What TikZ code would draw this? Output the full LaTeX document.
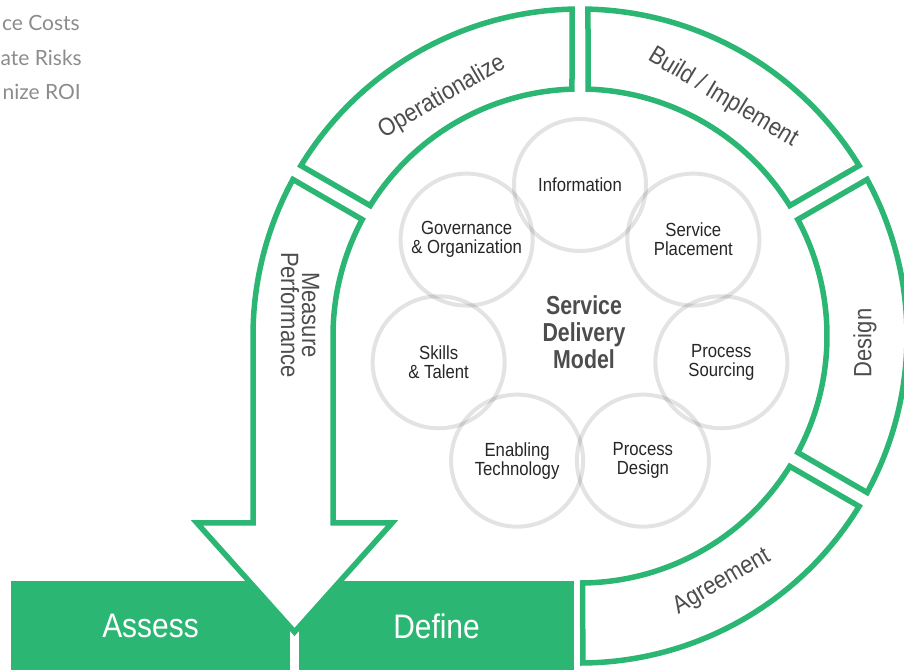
\documentclass[tikz,border=0pt]{standalone}
\usepackage{fontspec}
\setmainfont{Liberation Sans}[FakeStretch=0.88, BoldFeatures={FakeStretch=0.82}]
\newfontfamily\listfont{Lato}

\definecolor{sdmgreen}{RGB}{43,182,115}
\definecolor{labelgray}{RGB}{77,77,77}
\definecolor{listgray}{RGB}{140,140,140}

\tikzstyle{band}=[draw=sdmgreen, line width=5.5pt, fill=white, line join=miter]
\tikzstyle{phase}=[fill=sdmgreen, text=white, minimum height=90pt, inner sep=0pt, font=\fontsize{34}{34}\selectfont]
\tikzstyle{bubble}=[circle, draw=black, draw opacity=0.11, line width=4pt, minimum size=132pt, inner sep=0pt, align=center, text=black!85, font=\fontsize{19}{19}\selectfont]
\tikzstyle{ringlabel}=[text=labelgray, inner sep=0pt, font=\fontsize{25}{21}\selectfont]

\begin{document}
\begin{tikzpicture}[x=1pt,y=1pt]
\useasboundingbox (0,0) rectangle (904,669);
\clip (0,0) rectangle (904,669);
\coordinate (ring) at (580,333);
\coordinate (hub) at (580,339);

% LIST
\node[anchor=base east, inner sep=0pt, text=listgray, font=\listfont\fontsize{21}{21}\selectfont] (costs) at (80,638) {ce Costs};
\node[anchor=base east, inner sep=0pt, text=listgray, font=\listfont\fontsize{21}{21}\selectfont] (risks) at (82,603) {ate Risks};
\node[anchor=base east, inner sep=0pt, text=listgray, font=\listfont\fontsize{21}{21}\selectfont] (roi) at (81,569) {nize ROI};

% ASSESS / DEFINE
\node[phase, minimum width=279pt] (assess) at (150.5,43) {Assess};
\node[phase, minimum width=275pt] (define) at (436.5,43) {Define};

% MEASURE PERFORMANCE
\draw[band] ([shift={(151.4:327pt)}]ring) arc[start angle=151.4, end angle=180, radius=327pt]
	-- (253,146) -- (197,146) -- (294.5,37) -- (392,146) -- (333,146)
	-- ([shift={(180:247pt)}]ring) arc[start angle=180, end angle=151.86, radius=247pt] -- cycle;
\node[ringlabel, rotate=-90, align=center] (measure) at (300,354) {Measure\\Performance};

% OPERATIONALIZE
\draw[band] ([shift={(91.4:327pt)}]ring) arc[start angle=91.4, end angle=148.6, radius=327pt]
	-- ([shift={(148.14:247pt)}]ring) arc[start angle=148.14, end angle=91.86, radius=247pt] -- cycle;
\node[ringlabel, rotate=30] (operationalize) at ([shift={(120:276pt)}]ring) {Operationalize};

% BUILD / IMPLEMENT
\draw[band] ([shift={(31.4:327pt)}]ring) arc[start angle=31.4, end angle=88.6, radius=327pt]
	-- ([shift={(88.14:247pt)}]ring) arc[start angle=88.14, end angle=31.86, radius=247pt] -- cycle;
\node[ringlabel, rotate=-31] (build) at ([shift={(59:278pt)}]ring) {Build / Implement};

% DESIGN
\draw[band] ([shift={(-28.6:327pt)}]ring) arc[start angle=-28.6, end angle=28.6, radius=327pt]
	-- ([shift={(28.14:247pt)}]ring) arc[start angle=28.14, end angle=-28.14, radius=247pt] -- cycle;
\node[ringlabel, rotate=90] (design) at ([shift={(-1.4:285pt)}]ring) {Design};

% AGREEMENT
\draw[band] ([shift={(-89.5:327pt)}]ring) arc[start angle=-89.5, end angle=-31.4, radius=327pt]
	-- ([shift={(-31.86:247pt)}]ring) arc[start angle=-31.86, end angle=-89.4, radius=247pt] -- cycle;
\node[ringlabel, rotate=30] (agreement) at ([shift={(-60:284pt)}]ring) {Agreement};

% SERVICE DELIVERY MODEL
\node[bubble] (information) at ([shift={(90:145pt)}]hub) {Information};
\node[bubble] (placement) at ([shift={(38.57:145pt)}]hub) {Service\\Placement};
\node[bubble] (sourcing) at ([shift={(-12.86:145pt)}]hub) {Process\\Sourcing};
\node[bubble] (procdesign) at ([shift={(-64.29:145pt)}]hub) {Process\\Design};
\node[bubble] (technology) at ([shift={(-115.71:145pt)}]hub) {Enabling\\Technology};
\node[bubble] (skills) at ([shift={(-167.14:145pt)}]hub) {Skills\\\& Talent};
\node[bubble] (governance) at ([shift={(141.43:145pt)}]hub) {Governance\\\& Organization};
\node[text=labelgray, align=center, font=\bfseries\fontsize{26}{27}\selectfont] (model) at (584,337) {Service\\Delivery\\Model};

\end{tikzpicture}
\end{document}
